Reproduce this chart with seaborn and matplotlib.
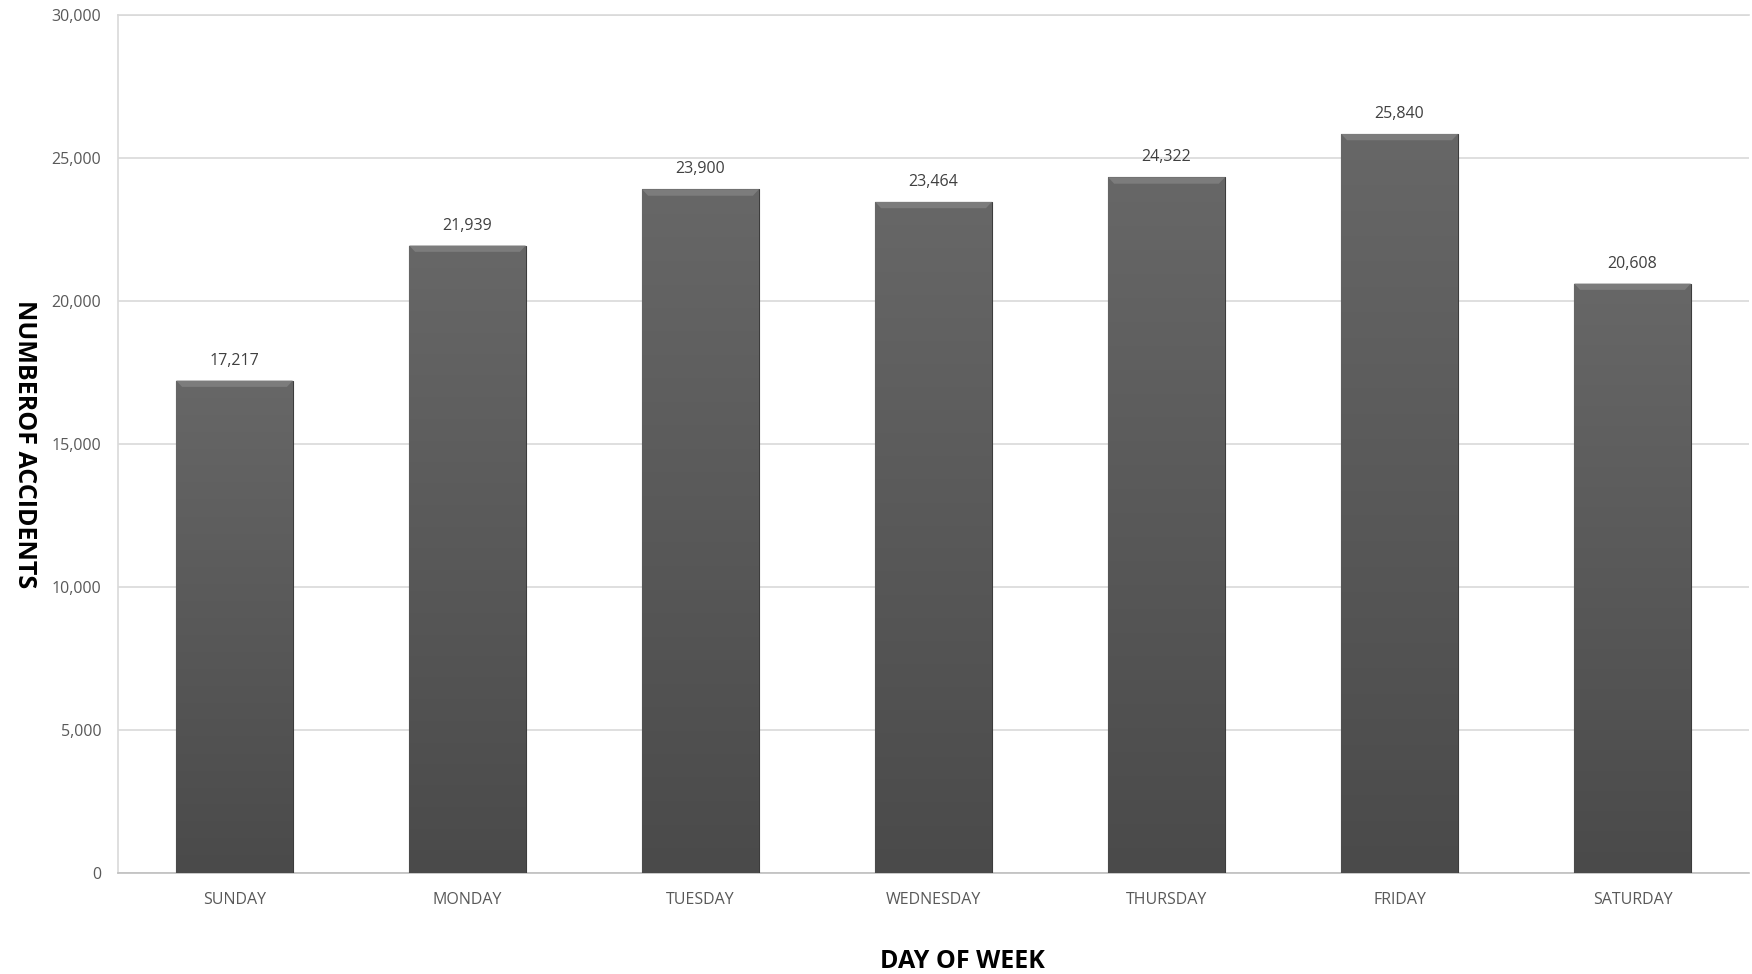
import numpy as np
import pandas as pd
import matplotlib
matplotlib.use("Agg")
import matplotlib.pyplot as plt
import seaborn as sns

# Data
days = ["SUNDAY", "MONDAY", "TUESDAY", "WEDNESDAY", "THURSDAY", "FRIDAY", "SATURDAY"]
accidents = [17217, 21939, 23900, 23464, 24322, 25840, 20608]
y_ticks = [0, 5000, 10000, 15000, 20000, 25000, 30000]

df = pd.DataFrame({"day": days, "accidents": accidents})

sns.set_style("white")
plt.rcParams["font.family"] = ["Open Sans", "DejaVu Sans"]

fig = plt.figure(figsize=(17.52, 9.74), dpi=100)
ax = fig.add_axes([118 / 1752, 1 - 873 / 974, (1749 - 118) / 1752, (873 - 15) / 974])

sns.barplot(data=df, x="day", y="accidents", color="#595959", width=0.5,
            edgecolor="#3c3c3c", linewidth=0.8, ax=ax, zorder=3)

# vertical gradient inside each bar
grad = np.linspace(0, 1, 256).reshape(-1, 1)
cmap = matplotlib.colors.LinearSegmentedColormap.from_list("g", ["#4a4a4a", "#676767"])
for p in ax.patches:
    x0, y0 = p.get_x(), p.get_y()
    w, h = p.get_width(), p.get_height()
    im = ax.imshow(grad, cmap=cmap, aspect="auto", origin="lower",
                   extent=[x0, x0 + w, y0, y0 + h], zorder=3.5)
    im.set_clip_path(p)
    # bevel highlight at top
    ax.fill([x0, x0 + w, x0 + w * 0.95, x0 + w * 0.05], [h, h, h - 220, h - 220],
            color="#7c7c7c", lw=0, zorder=4)

for p, v in zip(ax.patches, accidents):
    ax.text(p.get_x() + p.get_width() / 2, v + 420, f"{v:,}", ha="center", va="bottom",
            fontsize=11.5, color="#404040")

ax.set_xlim(-0.5, 6.5)
ax.set_ylim(0, 30000)
ax.set_yticks(y_ticks)
ax.set_yticklabels([f"{t:,}" for t in y_ticks])
ax.yaxis.grid(True, color="#d9d9d9", lw=1.2, zorder=0)
ax.set_axisbelow(True)
ax.tick_params(axis="both", length=0, labelsize=11.5, labelcolor="#595959", pad=12)
ax.tick_params(axis="x", pad=14)

for s in ["left", "top"]:
    ax.spines[s].set_color("#d9d9d9")
    ax.spines[s].set_linewidth(1.2)
ax.spines["right"].set_visible(False)
ax.spines["bottom"].set_color("#bfbfbf")
ax.spines["bottom"].set_linewidth(1.2)

ax.set_xlabel("DAY OF WEEK", fontsize=18, fontweight="bold", color="black")
ax.xaxis.set_label_coords(0.518, -0.103)
ax.xaxis.label.set_va("center")
ax.set_ylabel("NUMBEROF ACCIDENTS", fontsize=18, fontweight="bold", color="black",
              rotation=270, va="center")
ax.yaxis.set_label_coords(-0.0575, 0.5)

fig.savefig("out.png", dpi=100)
